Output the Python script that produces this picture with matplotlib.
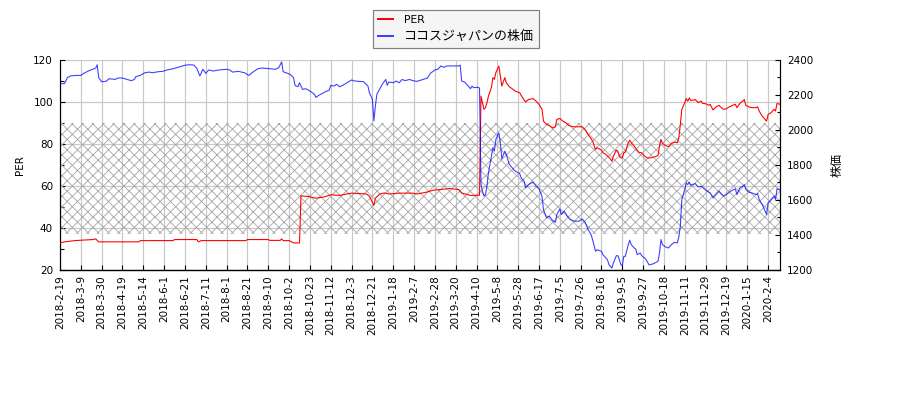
import matplotlib
matplotlib.use('Agg')
import matplotlib.pyplot as plt
from matplotlib.ticker import MultipleLocator

plt.rcParams['font.family'] = ['DejaVu Sans', 'Noto Sans CJK JP']

# ---------------- data ----------------
tick_labels = ['2018-2-19', '2018-3-9', '2018-3-30', '2018-4-19', '2018-5-14', '2018-6-1',
               '2018-6-21', '2018-7-11', '2018-8-1', '2018-8-21', '2018-9-10', '2018-10-2',
               '2018-10-23', '2018-11-12', '2018-12-3', '2018-12-21', '2019-1-18', '2019-2-7',
               '2019-2-28', '2019-3-20', '2019-4-10', '2019-5-8', '2019-5-28', '2019-6-17',
               '2019-7-5', '2019-7-26', '2019-8-16', '2019-9-5', '2019-9-27', '2019-10-18',
               '2019-11-11', '2019-11-29', '2019-12-19', '2020-1-15', '2020-2-4']
tick_step = 14          # trading days between labelled ticks
n_days = 485            # number of trading days shown

per_idx = [0, 3, 10, 22, 24, 26, 53, 54, 76, 77, 92, 93, 95, 125, 126, 140, 141, 148, 149, 150,
           154, 157, 161, 162, 167, 172, 177, 182, 188, 192, 196, 206, 208, 211, 212, 215, 218,
           221, 228, 237, 240, 246, 251, 255, 262, 268, 270, 273, 276, 282, 283, 285, 286, 287,
           288, 290, 291, 292, 293, 295, 296, 297, 299, 300, 302, 304, 306, 309, 311, 313, 315,
           318, 320, 322, 324, 325, 327, 329, 331, 333, 334, 336, 338, 340, 342, 345, 351, 353,
           355, 357, 358, 360, 361, 364, 365, 367, 370, 371, 372, 374, 375, 376, 377, 378, 379,
           380, 382, 383, 384, 386, 388, 389, 391, 393, 395, 397, 399, 402, 403, 404, 405, 407,
           409, 411, 413, 415, 416, 417, 418, 420, 421, 422, 423, 424, 426, 427, 429, 431, 432,
           434, 436, 437, 439, 441, 443, 444, 446, 448, 450, 452, 454, 455, 457, 459, 460, 461,
           463, 465, 468, 469, 470, 472, 473, 475, 476, 478, 480, 481, 482, 484]
per_values = [32.9, 33.4, 34.0, 34.5, 34.8, 33.4, 33.4, 34.0, 34.0, 34.5, 34.5, 33.4, 34.0, 34.0,
              34.5, 34.5, 34.1, 34.1, 34.8, 34.0, 34.0, 32.9, 32.9, 55.3, 55.0, 54.2, 54.7, 55.8,
              55.5, 56.1, 56.6, 56.2, 55.1, 50.8, 54.2, 56.2, 56.7, 56.2, 56.6, 56.6, 56.2, 57.0,
              58.0, 58.3, 58.8, 58.3, 56.7, 56.1, 55.5, 55.6, 102.8, 96.5, 97.3, 99.7, 102.8,
              106.8, 111.6, 110.8, 114.0, 117.1, 112.4, 107.6, 111.6, 109.2, 107.3, 106.3, 105.2,
              104.4, 102.0, 100.0, 101.2, 101.6, 100.4, 98.9, 96.5, 90.9, 89.3, 88.8, 87.7, 88.2,
              91.7, 92.2, 90.9, 90.1, 88.8, 88.2, 88.2, 86.9, 84.5, 82.5, 81.4, 77.4, 78.2, 77.1,
              75.8, 75.0, 72.9, 71.8, 74.2, 77.1, 76.6, 74.2, 73.4, 73.4, 75.8, 76.1, 80.6, 81.8,
              80.6, 79.0, 77.1, 76.1, 75.8, 74.2, 73.3, 73.4, 73.7, 74.5, 79.0, 82.2, 80.3, 79.3,
              78.7, 80.3, 80.9, 80.6, 83.0, 89.3, 96.5, 99.7, 101.6, 100.4, 101.9, 100.8, 100.9,
              101.2, 99.7, 100.4, 99.3, 99.2, 98.4, 98.9, 96.2, 97.7, 98.4, 97.7, 96.5, 96.8, 97.7,
              98.4, 98.9, 97.3, 99.3, 100.4, 101.2, 98.4, 97.7, 97.3, 97.3, 97.7, 95.7, 93.3, 92.5,
              90.9, 94.1, 94.9, 96.5, 95.7, 99.3, 98.9]

price_idx = [0, 3, 5, 7, 11, 14, 16, 19, 22, 24, 25, 26, 28, 31, 33, 37, 39, 42, 45, 48, 50, 51,
             54, 57, 60, 62, 66, 69, 72, 76, 80, 84, 87, 90, 92, 94, 95, 96, 98, 100, 103, 107,
             112, 114, 116, 120, 124, 127, 129, 133, 136, 141, 145, 147, 149, 150, 153, 155, 157,
             158, 160, 161, 163, 165, 167, 169, 171, 172, 174, 178, 181, 182, 184, 186, 188, 190,
             193, 196, 198, 201, 204, 207, 208, 210, 211, 212, 213, 215, 217, 219, 220, 221, 224,
             226, 228, 230, 232, 235, 237, 240, 244, 247, 249, 252, 254, 256, 258, 260, 262, 268,
             269, 270, 272, 274, 276, 277, 278, 281, 282, 283, 284, 285, 286, 287, 288, 290, 291,
             292, 293, 295, 296, 297, 299, 300, 302, 304, 306, 309, 310, 312, 313, 315, 318, 320,
             322, 324, 325, 327, 329, 331, 333, 334, 336, 337, 339, 341, 343, 346, 349, 351, 353,
             355, 357, 358, 360, 361, 364, 365, 366, 368, 369, 371, 372, 374, 375, 376, 377, 378,
             379, 380, 382, 383, 384, 386, 387, 388, 390, 391, 393, 394, 396, 397, 399, 402, 403,
             404, 405, 407, 409, 411, 413, 415, 416, 417, 418, 420, 421, 422, 423, 424, 425, 427,
             429, 431, 433, 435, 437, 439, 441, 443, 444, 446, 448, 450, 452, 454, 455, 457, 459,
             460, 461, 463, 465, 468, 469, 470, 472, 473, 475, 476, 478, 480, 481, 482, 484]
price_values = [2265, 2265, 2299, 2309, 2312, 2312, 2324, 2337, 2347, 2354, 2373, 2299, 2276,
                2278, 2293, 2289, 2297, 2297, 2289, 2282, 2289, 2305, 2312, 2327, 2331, 2327,
                2333, 2335, 2343, 2350, 2360, 2370, 2373, 2371, 2352, 2309, 2327, 2347, 2324,
                2343, 2337, 2343, 2347, 2343, 2331, 2335, 2327, 2312, 2327, 2350, 2354, 2350,
                2347, 2356, 2389, 2333, 2324, 2316, 2299, 2255, 2247, 2270, 2232, 2236, 2228,
                2217, 2204, 2186, 2198, 2217, 2228, 2255, 2251, 2261, 2247, 2255, 2270, 2286,
                2280, 2278, 2276, 2251, 2213, 2175, 2051, 2137, 2204, 2236, 2266, 2289, 2255,
                2274, 2270, 2280, 2270, 2289, 2282, 2289, 2282, 2278, 2289, 2297, 2324, 2343,
                2347, 2366, 2358, 2366, 2366, 2366, 2371, 2280, 2274, 2255, 2236, 2251, 2242,
                2244, 2240, 1690, 1650, 1622, 1631, 1679, 1755, 1851, 1898, 1879, 1946, 1984,
                1927, 1835, 1879, 1860, 1803, 1784, 1765, 1751, 1727, 1708, 1669, 1688, 1702,
                1679, 1664, 1622, 1545, 1498, 1507, 1484, 1473, 1517, 1549, 1517, 1536, 1507,
                1488, 1479, 1479, 1492, 1473, 1431, 1402, 1374, 1307, 1316, 1307, 1288, 1278,
                1259, 1231, 1211, 1240, 1282, 1282, 1259, 1231, 1225, 1278, 1278, 1345, 1370,
                1345, 1326, 1320, 1288, 1297, 1282, 1269, 1259, 1229, 1231, 1236, 1250, 1297,
                1374, 1345, 1332, 1326, 1345, 1358, 1355, 1389, 1450, 1603, 1660, 1698, 1688,
                1702, 1683, 1688, 1694, 1675, 1679, 1664, 1650, 1641, 1612, 1631, 1650, 1641,
                1622, 1631, 1645, 1656, 1664, 1631, 1669, 1679, 1688, 1660, 1645, 1641, 1631,
                1637, 1603, 1574, 1555, 1517, 1583, 1603, 1622, 1603, 1664, 1660]

per_band = (37.2, 90.0)   # hatched PER range

# ---------------- drawing ----------------
DPI = 62.5
PX = 72.0 / DPI           # points per pixel
FS = 10.4 * PX            # Latin text size (about 10.4 px)
FS_JP = 12.0 * PX         # Japanese axis label size
FS_LEG = 10.8 * PX        # legend Latin text
FS_LEG_JP = 13.0 * PX     # legend Japanese text

fig = plt.figure(figsize=(900 / DPI, 400 / DPI), dpi=DPI)
ax1 = fig.add_axes([60 / 900, 130 / 400, 720 / 900, 210 / 400])

ax1.fill_between([0, n_days - 1], per_band[0], per_band[1], facecolor='none',
                 edgecolor='#a8a8a8', hatch='xx', linewidth=0, zorder=1)
line_per, = ax1.plot(per_idx, per_values, color='#ff0000', lw=1.1 * PX, zorder=3)

ax2 = ax1.twinx()
line_price, = ax2.plot(price_idx, price_values, color='#0000ff', alpha=0.75,
                       lw=1.1 * PX, zorder=3)

ax1.set_xlim(0, n_days - 1)
ax1.set_ylim(20, 120)
ax2.set_ylim(1200, 2400)

tick_pos = [i * tick_step for i in range(len(tick_labels))]
ax1.set_xticks(tick_pos)
ax1.set_xticklabels(tick_labels, rotation=90, fontsize=FS)

ax1.yaxis.set_major_locator(MultipleLocator(20))
ax1.yaxis.set_minor_locator(MultipleLocator(10))
ax2.yaxis.set_major_locator(MultipleLocator(200))
ax2.yaxis.set_minor_locator(MultipleLocator(100))

ax1.grid(True, which='major', color='#c8c8c8', lw=1.2 * PX, zorder=0)
ax1.set_axisbelow(True)

for ax in (ax1, ax2):
    ax.tick_params(which='major', direction='in', length=5 * PX, width=1.1 * PX,
                   labelsize=FS, pad=7 * PX)
    ax.tick_params(which='minor', direction='in', length=3.5 * PX, width=1.1 * PX)
    for s in ax.spines.values():
        s.set_linewidth(1.2 * PX)
    ax.spines['top'].set_visible(False)
ax1.tick_params(axis='x', pad=5 * PX)
ax2.spines['left'].set_visible(False)
ax1.spines['right'].set_visible(False)

ax1.set_ylabel('PER', fontsize=FS, labelpad=8 * PX)
ax2.set_ylabel('株価', fontsize=FS_JP, labelpad=17 * PX)

leg = fig.legend([line_per, line_price], ['PER', 'ココスジャパンの株価'],
                 loc='upper center', bbox_to_anchor=(456 / 900, 1 - 10 / 400),
                 fontsize=FS_LEG, fancybox=False, framealpha=1, facecolor='#f5f5f5',
                 edgecolor='#808080', handlelength=1.4, handletextpad=0.95,
                 borderpad=0.45, labelspacing=0.5, borderaxespad=0)
leg.get_texts()[1].set_fontsize(FS_LEG_JP)
leg.get_frame().set_linewidth(1.2 * PX)
for l in leg.get_lines():
    l.set_linewidth(2 * PX)

fig.savefig('out.png', dpi=DPI)
